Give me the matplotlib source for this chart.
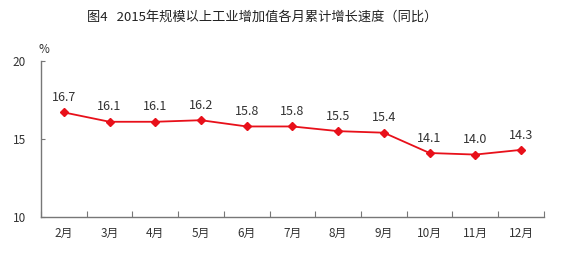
import numpy as np
import matplotlib.pyplot as plt

plt.rcParams['font.family'] = ['Noto Sans CJK SC', 'DejaVu Sans']

months = ["2月", "3月", "4月", "5月", "6月", "7月", "8月", "9月", "10月", "11月", "12月"]
growth = [16.7, 16.1, 16.1, 16.2, 15.8, 15.8, 15.5, 15.4, 14.1, 14.0, 14.3]
yticks = [10, 15, 20]

fig = plt.figure(figsize=(5.82, 2.59), dpi=100)
ax = fig.add_axes([0.0704, 0.162, 0.864, 0.603])

x = np.arange(len(months))
ax.plot(x, growth, color="#e8101a", linewidth=1.3, marker="D", markersize=4,
        markerfacecolor="#e8101a", markeredgecolor="#e8101a")
for xi, v in zip(x, growth):
    ax.annotate(f"{v:.1f}", (xi, v), xytext=(0, 6), textcoords="offset points",
                ha="center", va="bottom", fontsize=9, color="#333333")

ax.set_xlim(-0.5, len(months) - 0.5)
ax.set_ylim(10, 20)
ax.set_yticks(yticks)
ax.set_yticklabels([str(t) for t in yticks], fontsize=8.5, color="#333333")

# ticks sit between categories
ax.set_xticks(np.arange(len(months) + 1) - 0.5)
ax.set_xticklabels([])
ax.set_xticks(x, minor=True)
ax.set_xticklabels(months, minor=True, fontsize=8.5, color="#333333")
ax.tick_params(axis="x", which="major", direction="in", length=4, color="#777777")
ax.tick_params(axis="x", which="minor", length=0, pad=7)
ax.tick_params(axis="y", direction="in", length=3, color="#777777", pad=11)

for s in ["top", "right"]:
    ax.spines[s].set_visible(False)
for s in ["left", "bottom"]:
    ax.spines[s].set_color("#777777")
    ax.spines[s].set_linewidth(1.0)

ax.text(0.005, 1.03, "%", transform=ax.transAxes, ha="center", va="bottom",
        fontsize=8.5, color="#333333")

fig.text(0.45, 0.935, "图4   2015年规模以上工业增加值各月累计增长速度（同比）",
         ha="center", va="center", fontsize=9.5, color="#222222")

fig.savefig("out.png", dpi=100, facecolor="white")
